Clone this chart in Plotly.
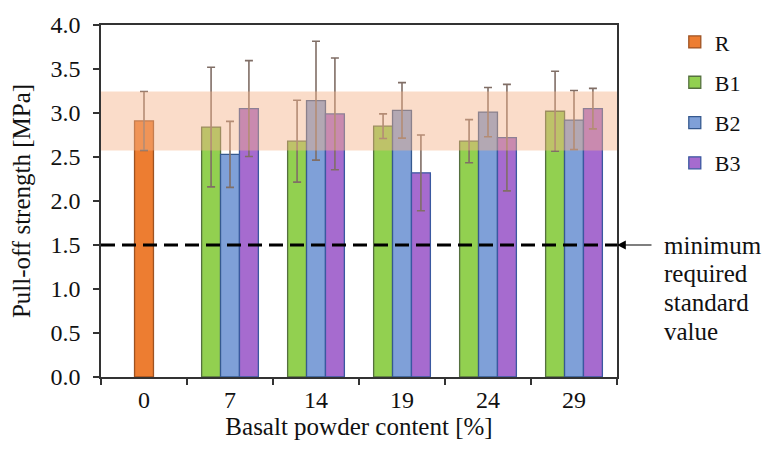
import plotly.graph_objects as go

# Basalt powder content [%] categories
categories = ["0", "7", "14", "19", "24", "29"]
mixed_categories = ["7", "14", "19", "24", "29"]

# Reference mix (0 % basalt powder)
r_values = [2.91]
r_errors = [0.335]

# Mixes with basalt powder
b1_values = [2.84, 2.68, 2.85, 2.68, 3.02]
b1_errors = [0.68, 0.465, 0.14, 0.245, 0.455]
b2_values = [2.53, 3.14, 3.03, 3.01, 2.92]
b2_errors = [0.375, 0.675, 0.315, 0.28, 0.335]
b3_values = [3.05, 2.99, 2.32, 2.72, 3.05]
b3_errors = [0.545, 0.635, 0.43, 0.605, 0.23]

min_required = 1.5
note_lines = ["minimum", "required", "standard", "value"]

FONT = "Liberation Serif"
ERR_COLOR = "rgb(128,110,102)"
BAR_W = 0.22

series = [
    ("R", categories[:1], r_values, r_errors, "#ED7D31", "#9E5222", -0.11),
    ("B1", mixed_categories, b1_values, b1_errors, "#92D050", "#55703F", -0.33),
    ("B2", mixed_categories, b2_values, b2_errors, "#7FA0D8", "#35598F", -0.11),
    ("B3", mixed_categories, b3_values, b3_errors, "#A66BCF", "#3A58A0", 0.11),
]

fig = go.Figure()
for name, xs, ys, errs, fill, edge, off in series:
    fig.add_trace(go.Bar(
        name=name, x=xs, y=ys,
        width=BAR_W, offset=off,
        marker=dict(color=fill, line=dict(color=edge, width=1.3)),
        error_y=dict(type="data", array=errs, visible=True,
                     color=ERR_COLOR, thickness=1.6, width=4),
        legendgroup=name,
    ))

# Scatter band of the reference mix (mean ± deviation)
fig.add_shape(type="rect", xref="paper", x0=0, x1=1, yref="y",
              y0=r_values[0] - r_errors[0], y1=r_values[0] + r_errors[0],
              fillcolor="rgb(244,177,135)", opacity=0.45,
              line=dict(width=0), layer="above")

# Minimum required standard value
fig.add_shape(type="line", xref="paper", x0=0, x1=1, yref="y",
              y0=min_required, y1=min_required,
              line=dict(color="black", width=3, dash="14px,7px"), layer="above")

fig.add_annotation(x=1, xref="paper", y=min_required, yref="y", text="",
                   showarrow=True, ax=36, ay=0, arrowhead=2, arrowsize=1.6,
                   arrowwidth=1.1, arrowcolor="black", standoff=0)
for i, line in enumerate(note_lines):
    fig.add_annotation(x=1.087, xref="paper", y=min_required, yref="y",
                       text=line, showarrow=False, xanchor="left",
                       yanchor="middle", yshift=-i * 28.7,
                       font=dict(family=FONT, size=25, color="#111111"))

axis_line = dict(showline=True, linecolor="#333333", linewidth=1.6,
                 mirror=True, ticks="outside", ticklen=6, tickwidth=1.6,
                 tickcolor="#333333", showgrid=False, zeroline=False)

fig.update_layout(
    width=766, height=454,
    margin=dict(l=101, r=149, t=18, b=77),
    paper_bgcolor="white", plot_bgcolor="white",
    barmode="overlay",
    font=dict(family=FONT, color="#111111"),
    xaxis=dict(type="category", categoryorder="array", categoryarray=categories,
               range=[-0.5, 5.5], tickson="boundaries",
               tickfont=dict(size=24),
               title=dict(text="Basalt powder content [%]", font=dict(size=25),
                          standoff=2),
               **axis_line),
    yaxis=dict(range=[0, 4], dtick=0.5, tickformat=".1f",
               tickfont=dict(size=24), ticklabelstandoff=8,
               title=dict(text="Pull-off strength [MPa]", font=dict(size=25),
                          standoff=13),
               **axis_line),
    legend=dict(x=1.112, xanchor="left", y=1.011, yanchor="top",
                traceorder="grouped", tracegroupgap=8.7,
                font=dict(size=22), bgcolor="rgba(0,0,0,0)"),
    showlegend=True,
)

fig.write_html("out.html")
